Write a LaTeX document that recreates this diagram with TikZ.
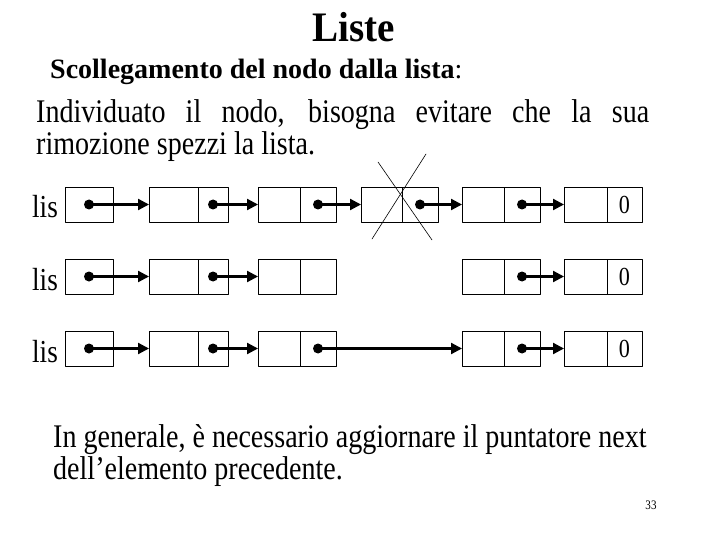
\documentclass[tikz,border=0pt]{standalone}
\usepackage{fontspec}
\setmainfont{Liberation Serif}
\newfontfamily\narrowserif{Liberation Serif}[FakeStretch=0.85]
\newfontfamily\titleserif{Liberation Serif}[FakeStretch=0.93]
\usetikzlibrary{arrows.meta}
\newcommand{\bodyfont}{\narrowserif\fontsize{33}{30}\selectfont}
\tikzset{
  cell/.style={draw, line width=0.8pt, minimum height=35pt, inner sep=0pt, outer sep=0pt},
  ptr/.style={-{Triangle[length=11pt,width=11pt]}, line width=2.2pt},
  dot/.style={circle, fill, inner sep=0pt, minimum size=10pt},
  txt/.style={anchor=base west, inner sep=0pt, align=left, font=\bodyfont}
}
\begin{document}
\begin{tikzpicture}[x=1pt, y=-1pt, line cap=round, line join=round]
  \useasboundingbox (0,0) rectangle (720,540);
  % titoli e testo (base = ultima riga)
  \node[anchor=base, inner sep=0pt, font=\titleserif\bfseries\fontsize{42}{48}\selectfont] (title) at (354,42) {Liste};
  \node[anchor=base west, inner sep=0pt, font=\bfseries\fontsize{28}{34}\selectfont] (sub) at (50,79) {Scollegamento del nodo dalla lista\textmd{:}};
  \node[txt, font=\narrowserif\fontsize{33}{32}\selectfont] (intro) at (36,155) {\makebox[613pt][s]{Individuato il nodo, bisogna evitare che la sua}\\rimozione spezzi la lista.};
  \node[txt] (note) at (53,479) {In generale, è necessario aggiornare il puntatore next\\dell’elemento precedente.};
  \node[inner sep=0pt, font=\narrowserif\fontsize{13}{15}\selectfont] (page) at (651,505) {33};
  % testa della lista
  \foreach \r/\yy in {1/204.5, 2/276.5, 3/348.5} {
    \node[cell, minimum width=48pt] (h\r) at (89,\yy) {};
    \node[anchor=base, inner sep=0pt, font=\narrowserif\fontsize{32}{38}\selectfont] (lis\r) at (45,{\yy+13.5}) {lis};
  }
  % elementi
  \foreach \r/\e/\yy in {1/2/204.5, 1/3/204.5, 1/4/204.5, 1/5/204.5, 1/6/204.5,
                         2/2/276.5, 2/3/276.5, 2/5/276.5, 2/6/276.5,
                         3/2/348.5, 3/3/348.5, 3/5/348.5, 3/6/348.5} {
    \ifcase\e\or\or \def\xa{149}\def\xs{198}\def\xb{228}%
      \or \def\xa{258}\def\xs{300}\def\xb{336}%
      \or \def\xa{361}\def\xs{402}\def\xb{438}%
      \or \def\xa{462}\def\xs{504}\def\xb{540}%
      \or \def\xa{564}\def\xs{607}\def\xb{642}\fi
    \node[cell, anchor=west, minimum width={(\xs-\xa)*1pt}] (e\r\e a) at (\xa,\yy) {};
    \node[cell, anchor=west, minimum width={(\xb-\xs)*1pt}] (e\r\e b) at (\xs,\yy) {};
  }
  \foreach \r in {1,2,3}
    \node[inner sep=0pt, font=\narrowserif\fontsize{26}{30}\selectfont] (zero\r) at (e\r6b) {0};
  % puntatori
  \foreach \f/\t in {h1/e12a, e12b/e13a, e13b/e14a, e14b/e15a, e15b/e16a,
                     h2/e22a, e22b/e23a, e25b/e26a,
                     h3/e32a, e32b/e33a, e33b/e35a, e35b/e36a}
    \draw[ptr] (\f.center) -- (\t.west);
  \foreach \c in {h1,e12b,e13b,e14b,e15b,h2,e22b,e25b,h3,e32b,e33b,e35b}
    \node[dot] (\c p) at (\c.center) {};
  % nodo rimosso
  \draw[line width=0.6pt] (378,162) -- (432,240);
  \draw[line width=0.6pt] (426,154) -- (372,239);
\end{tikzpicture}
\end{document}
